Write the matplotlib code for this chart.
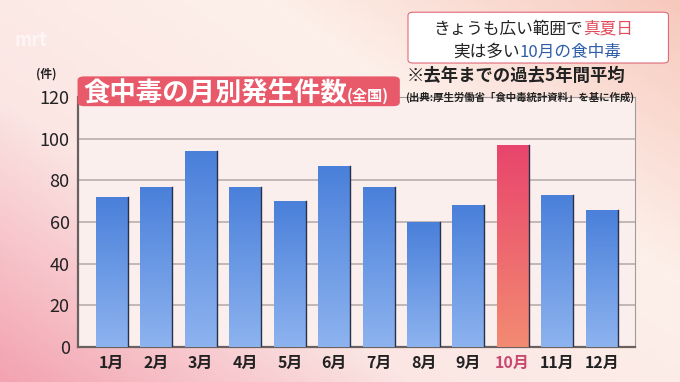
# Monthly food poisoning cases (5-year average) - TV news style bar chart
import numpy as np
import matplotlib.pyplot as plt
from matplotlib.patches import FancyBboxPatch
from matplotlib.colors import LinearSegmentedColormap

plt.rcParams['font.family'] = ['Noto Sans CJK JP', 'DejaVu Sans']

months = ['1月', '2月', '3月', '4月', '5月', '6月', '7月', '8月', '9月', '10月', '11月', '12月']
cases = [72, 77, 94, 77, 70, 87, 77, 60, 68, 97, 73, 66]
yticks = [0, 20, 40, 60, 80, 100, 120]
highlight = '10月'

fig = plt.figure(figsize=(6.8, 3.82), dpi=100)
renderer = fig.canvas.get_renderer()


def text_chain(x, y, parts, **kw):
    """Draw text pieces one after another on the same line."""
    for s, color, size in parts:
        t = fig.text(x, y, s, color=color, fontsize=size, ha='left', va='baseline', **kw)
        bb = t.get_window_extent(renderer)
        x += bb.width / fig.bbox.width


# pink background gradient
bg = fig.add_axes([0, 0, 1, 1], zorder=-10)
bg_cmap = LinearSegmentedColormap.from_list('bg', ['#f3a3b1', '#fbe6e4', '#fdf0ea', '#f7c9bd'])
gx, gy = np.meshgrid(np.linspace(0, 1, 200), np.linspace(0, 1, 120))
bg.imshow(0.55 * gx + 0.45 * (1 - gy), cmap=bg_cmap, aspect='auto', extent=[0, 1, 0, 1])
bg.set_axis_off()

ax = fig.add_axes([0.1147, 0.0916, 0.819, 0.6544])
ax.set_facecolor('#fbefed')
x = np.arange(len(months))
bars = ax.bar(x, cases, width=0.72, color='none', zorder=3)

blue = LinearSegmentedColormap.from_list('blue', ['#8db3ef', '#4a80da'])
red = LinearSegmentedColormap.from_list('red', ['#f38a72', '#e8456c'])
grad = np.linspace(0, 1, 100).reshape(-1, 1)
for b, m in zip(bars, months):
    cm = red if m == highlight else blue
    x0, w, h = b.get_x(), b.get_width(), b.get_height()
    im = ax.imshow(grad, cmap=cm, origin='lower', aspect='auto',
                   extent=[x0, x0 + w, 0, h], zorder=3)
    im.set_clip_path(b)
    # dark shadow on the right edge
    ax.plot([x0 + w, x0 + w], [0, h], color='#2a3048', lw=1.0, zorder=4)

ax.set_xlim(-0.756, 11.745)
ax.set_ylim(0, 120)
ax.set_yticks(yticks)
ax.set_yticklabels([str(t) for t in yticks], fontsize=13, color='#222222')
ax.set_xticks(x)
ax.set_xticklabels(months, fontsize=11.5, fontweight='bold', color='#222222')
ax.get_xticklabels()[months.index(highlight)].set_color('#c8486e')
ax.tick_params(length=0, pad=6)
ax.grid(axis='y', color='#b8aeae', lw=1.2, zorder=1)
for s in ['top', 'right']:
    ax.spines[s].set_color('#a09a9a')
    ax.spines[s].set_linewidth(0.8)
for s in ['left', 'bottom']:
    ax.spines[s].set_color('#6a6060')
    ax.spines[s].set_linewidth(1.6)

# title box
fig.patches.append(FancyBboxPatch((0.118, 0.726), 0.466, 0.07, boxstyle='round,pad=0.004,rounding_size=0.01',
                                  transform=fig.transFigure, fc='#e85a6a', ec='none', zorder=5))
text_chain(0.122, 0.735, [('食中毒の月別発生件数', 'white', 19), ('(全国)', 'white', 11)],
           fontweight='bold', zorder=6)
fig.text(0.068, 0.807, '(件)', fontsize=8.5, fontweight='bold', color='#222222', ha='center', va='center')
fig.text(0.598, 0.802, '※去年までの過去5年間平均', fontsize=12.5, fontweight='bold', color='#222222',
         va='center', ha='left')
fig.text(0.932, 0.745, '(出典:厚生労働省「食中毒統計資料」を基に作成)', fontsize=7.5, fontweight='bold',
         color='#222222', va='center', ha='right')

# headline box top right
fig.patches.append(FancyBboxPatch((0.603, 0.838), 0.377, 0.127, boxstyle='round,pad=0.003,rounding_size=0.008',
                                  transform=fig.transFigure, fc='white', ec='#e06a7a', lw=0.8, zorder=5))
text_chain(0.637, 0.912, [('きょうも広い範囲で', '#222222', 12), ('真夏日', '#e04c5c', 12)], zorder=6)
text_chain(0.666, 0.852, [('実は多い', '#222222', 12), ('10月の食中毒', '#2f5ea8', 12)], zorder=6)

# faint station logo
fig.text(0.045, 0.895, 'mrt', fontsize=13, fontweight='bold', color='white', alpha=0.6,
         va='center', ha='center')

fig.savefig('out.png', dpi=100)
